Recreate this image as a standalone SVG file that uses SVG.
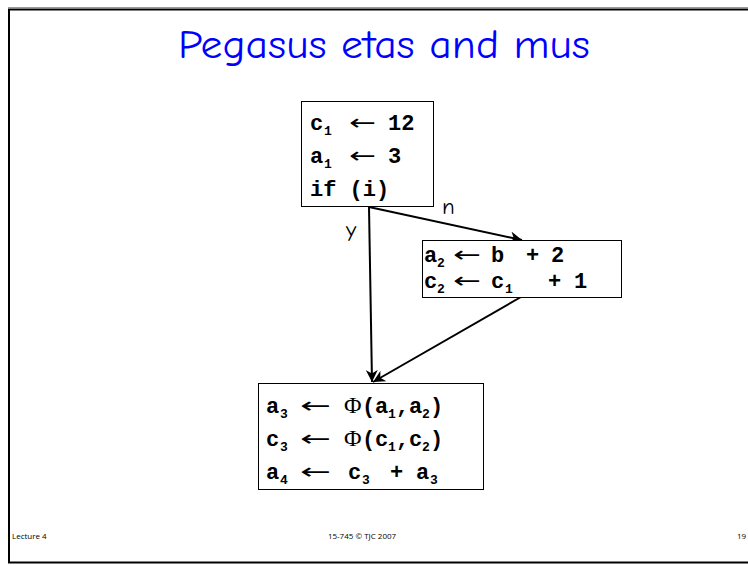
<svg xmlns="http://www.w3.org/2000/svg" width="748" height="566" viewBox="0 0 748 566">
<style>
.box{fill:#fff;stroke:#000;stroke-width:1}
.code{font-family:"Liberation Mono","Courier New",monospace;font-weight:bold;font-size:22px;fill:#000}
.sub{font-size:13px}
.phi{font-family:"Liberation Serif","Times New Roman",serif;font-weight:normal;font-size:24px}
.arr{font-family:"DejaVu Sans",sans-serif;font-size:22px;fill:#000}
.lbl{font-family:"Comic Neue","Open Sans","DejaVu Sans",sans-serif;font-size:23px;fill:#000}
.foot{font-family:"Open Sans","DejaVu Sans",sans-serif;font-size:8px;fill:#000}
.edge{stroke:#000;stroke-width:2;fill:none;marker-end:url(#ah)}
</style>
<defs>
<marker id="ah" viewBox="0 0 10 10" refX="10" refY="5" markerWidth="6" markerHeight="6" orient="auto" markerUnits="strokeWidth">
<path d="M0,0 L10,5 L0,10 L3,5 z" fill="#000"/>
</marker>
</defs>
<rect x="0" y="0" width="748" height="566" fill="#fff"/>
<line x1="8" y1="7.5" x2="748" y2="7.5" stroke="#999" stroke-width="1"/>
<rect x="9" y="9.5" width="760" height="553" fill="none" stroke="#000" stroke-width="2"/>
<text x="384" y="58" text-anchor="middle" font-family="'Comic Neue','Open Sans','DejaVu Sans',sans-serif" font-size="40" fill="#0000ff" textLength="412" lengthAdjust="spacingAndGlyphs">Pegasus etas and mus</text>

<g id="connectors">
<line class="edge" x1="369" y1="207" x2="372" y2="382"/>
<line class="edge" x1="369" y1="207" x2="522" y2="240"/>
<line class="edge" x1="521" y1="297" x2="373" y2="382"/>
</g>

<g id="b1">
<rect class="box" x="301.5" y="101.5" width="132" height="105"/>
<text class="code" y="130"><tspan x="310">c</tspan><tspan class="sub" x="324" dy="5">1</tspan></text>
<text class="arr" x="349" y="130" textLength="27" lengthAdjust="spacingAndGlyphs">←</text>
<text class="code" x="388" y="130">12</text>
<text class="code" y="163"><tspan x="310">a</tspan><tspan class="sub" x="324" dy="5">1</tspan></text>
<text class="arr" x="349" y="163" textLength="27" lengthAdjust="spacingAndGlyphs">←</text>
<text class="code" x="388" y="163">3</text>
<text class="code" y="196" x="310">if (i)</text>
</g>

<g id="b2">
<rect class="box" x="422.5" y="240.5" width="199" height="57"/>
<text class="code" y="262"><tspan x="424">a</tspan><tspan class="sub" x="437" dy="5">2</tspan><tspan x="491" dy="-5">b</tspan><tspan x="526">+</tspan><tspan x="551">2</tspan></text>
<text class="arr" x="453" y="262" textLength="28" lengthAdjust="spacingAndGlyphs">←</text>
<text class="code" y="288"><tspan x="424">c</tspan><tspan class="sub" x="437" dy="5">2</tspan><tspan x="491" dy="-5">c</tspan><tspan class="sub" x="505" dy="5">1</tspan><tspan x="548" dy="-5">+</tspan><tspan x="574">1</tspan></text>
<text class="arr" x="453" y="288" textLength="28" lengthAdjust="spacingAndGlyphs">←</text>
</g>

<g id="b3">
<rect class="box" x="258.5" y="383.5" width="225" height="106"/>
<text class="code" y="413"><tspan x="266">a</tspan><tspan class="sub" x="280" dy="5">3</tspan><tspan class="phi" x="344" dy="-5">Φ</tspan><tspan x="362">(</tspan><tspan x="375">a</tspan><tspan class="sub" x="388" dy="5">1</tspan><tspan x="396" dy="-5">,</tspan><tspan x="409">a</tspan><tspan class="sub" x="422" dy="5">2</tspan><tspan x="430" dy="-5">)</tspan></text>
<text class="arr" x="300" y="413" textLength="31" lengthAdjust="spacingAndGlyphs">←</text>
<text class="code" y="446"><tspan x="266">c</tspan><tspan class="sub" x="280" dy="5">3</tspan><tspan class="phi" x="344" dy="-5">Φ</tspan><tspan x="362">(</tspan><tspan x="375">c</tspan><tspan class="sub" x="388" dy="5">1</tspan><tspan x="396" dy="-5">,</tspan><tspan x="409">c</tspan><tspan class="sub" x="422" dy="5">2</tspan><tspan x="430" dy="-5">)</tspan></text>
<text class="arr" x="300" y="446" textLength="31" lengthAdjust="spacingAndGlyphs">←</text>
<text class="code" y="479"><tspan x="266">a</tspan><tspan class="sub" x="280" dy="5">4</tspan><tspan x="348" dy="-5">c</tspan><tspan class="sub" x="362" dy="5">3</tspan><tspan x="390" dy="-5">+</tspan><tspan x="416">a</tspan><tspan class="sub" x="430" dy="5">3</tspan></text>
<text class="arr" x="300" y="479" textLength="31" lengthAdjust="spacingAndGlyphs">←</text>
</g>

<g id="labels">
<text class="lbl" x="346" y="237">y</text>
<text class="lbl" x="442" y="214">n</text>
</g>

<g id="footer">
<text class="foot" x="12" y="539">Lecture 4</text>
<text class="foot" x="362" y="539" text-anchor="middle">15-745 © TJC 2007</text>
<text class="foot" x="737" y="539">19</text>
</g>
</svg>
